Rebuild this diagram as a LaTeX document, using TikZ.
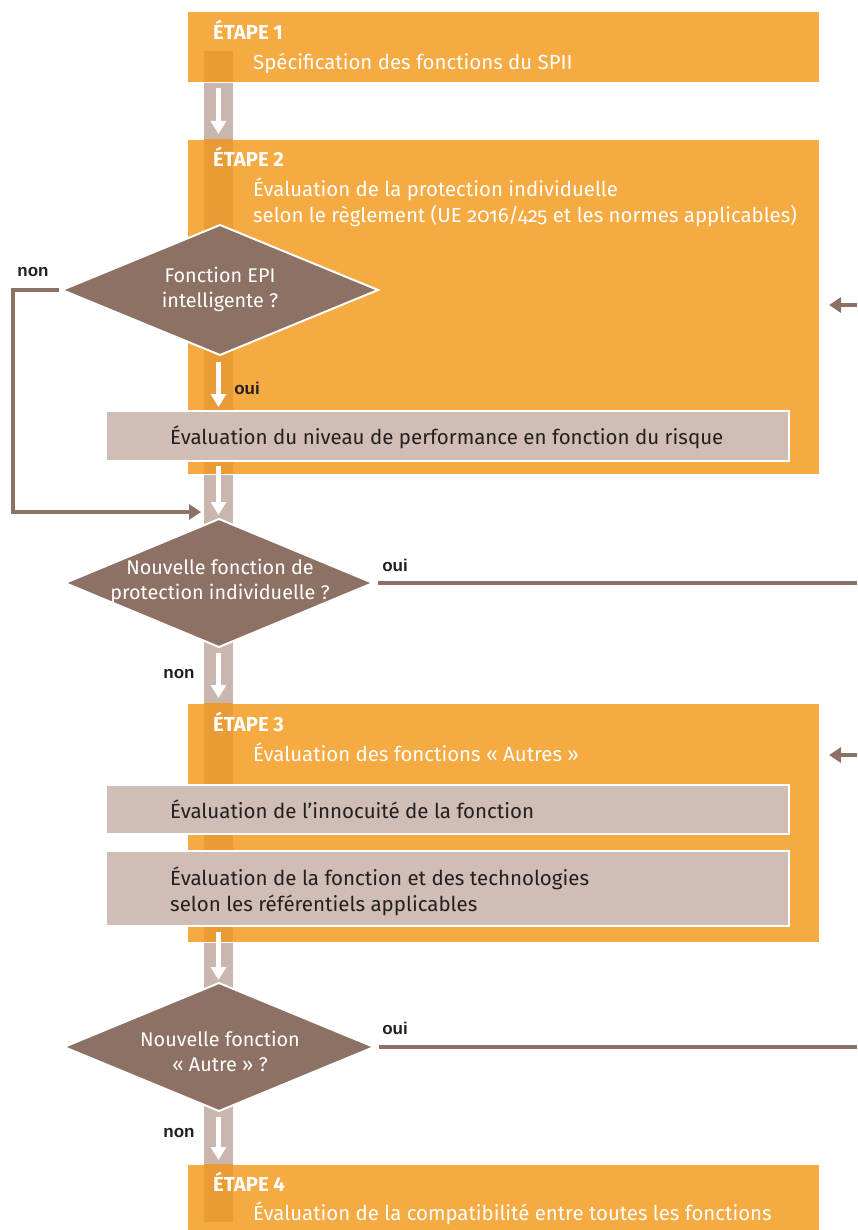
\documentclass[tikz,border=0pt]{standalone}
\usepackage{fontspec}
\setmainfont{Fira Sans}
\newfontfamily\labfont{Liberation Sans}
\usetikzlibrary{arrows.meta,shapes.geometric,calc}
\definecolor{orangeA}{HTML}{F5AA42}
\definecolor{orangeB}{HTML}{E99C36}
\definecolor{taupe}{HTML}{C9B7AF}
\definecolor{greyA}{HTML}{D0BEB6}
\definecolor{brownA}{HTML}{8C7164}
\definecolor{ink}{HTML}{231F20}
\begin{document}
\begin{tikzpicture}[x=1pt,y=-1pt,
  stepbox/.style={fill=orangeA, draw=white, line width=0.6pt, anchor=north west, inner sep=0pt, outer sep=0pt, minimum width=632pt},
  greybox/.style={fill=greyA, draw=white, line width=1.5pt, anchor=north west, inner sep=0pt, outer sep=0pt, minimum width=683pt},
  decision/.style={diamond, fill=brownA, draw=white, line width=2pt, inner sep=0pt, outer sep=0pt, minimum height=130pt},
  dtext/.style={text=white, font=\fontsize{19.8}{25}\selectfont, align=center, inner sep=0pt},
  steptitle/.style={anchor=base west, text=white, font=\fontsize{20.3}{22}\selectfont\bfseries, inner sep=0pt},
  stepsub/.style={anchor=base west, text=white, font=\fontsize{20.4}{26}\selectfont, inner sep=0pt, align=left},
  boxtext/.style={anchor=base west, text=ink, font=\fontsize{20.5}{26}\selectfont, inner sep=0pt, align=left},
  lab/.style={text=ink, font=\fontsize{17}{18}\selectfont\labfont\bfseries, inner sep=0pt},
  warrow/.style={draw=white, line width=4.5pt, -{Triangle[length=13pt,width=15pt]}},
  barrow/.style={draw=brownA, line width=4.5pt, -{Triangle[length=12pt,width=15pt]}},
  bline/.style={draw=brownA, line width=4.5pt}
]
\useasboundingbox (0,0) rectangle (857,1230);
\coordinate (bx) at (218.5,0);
\coordinate (rr) at (857,0);

% vertical flow band
\fill[taupe] (204,51) rectangle (233,1222);

% step boxes
\node[stepbox, minimum height=71pt] (e1) at (187,11) {};
\node[stepbox, minimum height=335pt] (e2) at (187,139) {};
\node[stepbox, minimum height=239pt] (e3) at (187,703) {};
\node[stepbox, minimum height=67pt] (e4) at (187,1164) {};

% band over step boxes
\fill[orangeB] (204,51) rectangle (233,82);
\fill[orangeB] (204,139.3) rectangle (233,473.7);
\fill[orangeB] (204,703.3) rectangle (233,941.7);
\fill[orangeB] (204,1164.3) rectangle (233,1222);

% step texts
\node[steptitle] (s1t) at (213,40) {ÉTAPE 1};
\node[stepsub] (s1s) at (253,70) {Spécification des fonctions du SPII};
\node[steptitle] (s2t) at (213,167) {ÉTAPE 2};
\node[stepsub] (s2s) at (253,197) {Évaluation de la protection individuelle};
\node[stepsub] (s2u) at (253,223) {selon le règlement (UE {\addfontfeatures{Numbers=OldStyle}2016/425} et les normes applicables)};
\node[steptitle] (s3t) at (213,731) {ÉTAPE 3};
\node[stepsub] (s3s) at (253,761) {Évaluation des fonctions « Autres »};
\node[steptitle] (s4t) at (213,1191) {ÉTAPE 4};
\node[stepsub] (s4s) at (253,1220) {Évaluation de la compatibilité entre toutes les fonctions};

% grey boxes
\node[greybox, minimum height=50pt] (g1) at (106,411) {};
\node[greybox, minimum height=49pt] (g2) at (106,785) {};
\node[greybox, minimum height=75pt] (g3) at (106,851) {};
\node[boxtext] (g1t) at (170,444) {Évaluation du niveau de performance en fonction du risque};
\node[boxtext] (g2t) at (170,818) {Évaluation de l’innocuité de la fonction};
\node[boxtext] (g3t) at (170,885) {Évaluation de la fonction et des technologies};
\node[boxtext] (g3u) at (170,911) {selon les référentiels applicables};

% decisions
\node[decision, minimum width=316pt] (d1) at (220,290) {};
\node[decision, minimum width=308pt, minimum height=128pt] (d2) at (219,583) {};
\node[decision, minimum width=310pt, minimum height=128pt] (d3) at (219,1047) {};
\node[dtext] (d1t) at (220,289) {Fonction EPI\\intelligente ?};
\node[dtext] (d2t) at (220,581) {Nouvelle fonction de\\protection individuelle ?};
\node[dtext] (d3t) at (220,1051) {Nouvelle fonction\\« Autre » ?};

% white flow arrows
\draw[warrow, shorten <=6pt, shorten >=5pt] (e1.south -| bx) -- (e2.north -| bx);
\draw[warrow, shorten <=7pt, shorten >=4pt] (d1.south -| bx) -- (g1.north -| bx);
\draw[warrow, shorten <=5pt, shorten >=4pt] (g1.south -| bx) -- (d2.north -| bx);
\draw[warrow, shorten <=6pt, shorten >=5pt] (d2.south -| bx) -- (e3.north -| bx);
\draw[warrow, shorten <=6pt, shorten >=3pt] (g3.south -| bx) -- (d3.north -| bx);
\draw[warrow, shorten <=6pt, shorten >=4pt] (d3.south -| bx) -- (e4.north -| bx);

% "non" loop from decision 1
\coordinate (loopend) at (201,512);
\draw[barrow, shorten <=3pt] (d1.west) -- (13,290) |- (loopend);

% "oui" lines to the right
\draw[bline, shorten <=5pt] (d2.east) -- (d2.east -| rr);
\draw[bline, shorten <=5pt] (d3.east) -- (d3.east -| rr);

% incoming arrows on the right
\coordinate (r1) at (857,305);
\coordinate (r2) at (857,755);
\draw[barrow, shorten >=10pt] (r1) -- (r1 -| e2.east);
\draw[barrow, shorten >=10pt] (r2) -- (r2 -| e3.east);

% labels
\node[lab] (l1) at (33,272) {non};
\node[lab] (l2) at (247,388) {oui};
\node[lab] (l3) at (395,565) {oui};
\node[lab] (l4) at (179,674) {non};
\node[lab] (l5) at (395,1028) {oui};
\node[lab] (l6) at (179,1133) {non};
\end{tikzpicture}
\end{document}
